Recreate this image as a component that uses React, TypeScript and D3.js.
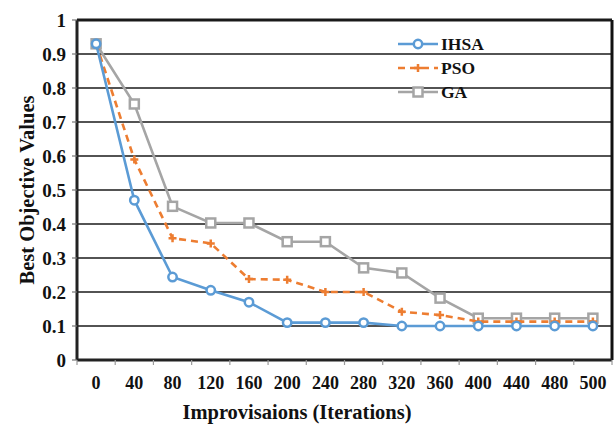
import React, { useEffect, useRef } from "react";
import * as d3 from "d3";

const categories = ["0","40","80","120","160","200","240","280","320","360","400","440","480","500"];
const ihsa = [0.93,0.47,0.244,0.205,0.17,0.11,0.11,0.11,0.1,0.1,0.1,0.1,0.1,0.1];
const pso = [0.93,0.59,0.358,0.343,0.238,0.236,0.2,0.2,0.142,0.132,0.113,0.113,0.113,0.113];
const ga = [0.93,0.753,0.452,0.403,0.403,0.348,0.348,0.271,0.256,0.182,0.123,0.123,0.123,0.123];
const yTicks = [0,0.1,0.2,0.3,0.4,0.5,0.6,0.7,0.8,0.9,1];

const seriesNames = ["IHSA","PSO","GA"];
const seriesColors = ["#5B9BD5","#ED7D31","#A5A5A5"];

export default function App() {
  const ref = useRef<SVGSVGElement>(null);
  useEffect(() => {
    const svg = d3.select(ref.current);
    svg.selectAll("*").remove();
    const W = 616, H = 427;
    const m = { left: 77, right: 4, top: 20, bottom: 67 };
    const x = d3.scaleBand().domain(categories).range([m.left, W - m.right]);
    const y = d3.scaleLinear().domain([0, 1]).range([H - m.bottom, m.top]);
    const font = "'Liberation Serif', 'Times New Roman', serif";

    svg.append("rect").attr("width", W).attr("height", H).attr("fill", "#fff");

    svg.append("g").selectAll("line").data(yTicks.filter(t => t > 0)).join("line")
      .attr("x1", m.left).attr("x2", W - m.right)
      .attr("y1", d => y(d)).attr("y2", d => y(d))
      .attr("stroke", "#1a1a1a").attr("stroke-width", d => d === 1 ? 3 : 1.5);

    svg.append("line").attr("x1", W - m.right).attr("x2", W - m.right)
      .attr("y1", y(1)).attr("y2", y(0)).attr("stroke", "#111").attr("stroke-width", 3);
    svg.append("line").attr("x1", m.left).attr("x2", m.left)
      .attr("y1", y(1)).attr("y2", y(0)).attr("stroke", "#222").attr("stroke-width", 3);
    svg.append("line").attr("x1", m.left).attr("x2", W - m.right)
      .attr("y1", y(0)).attr("y2", y(0)).attr("stroke", "#222").attr("stroke-width", 3);

    const txt = (sel: any, size: number) =>
      sel.style("font-family", font).style("font-weight", "bold").style("font-size", size + "px").attr("fill", "#111");

    const yg = svg.append("g");
    yg.selectAll("line").data(yTicks).join("line")
      .attr("x1", m.left - 5).attr("x2", m.left)
      .attr("y1", d => y(d)).attr("y2", d => y(d))
      .attr("stroke", "#777").attr("stroke-width", 1.2);
    txt(yg.selectAll("text").data(yTicks).join("text")
      .attr("x", m.left - 11).attr("y", d => y(d)).attr("dy", "0.35em")
      .attr("text-anchor", "end"), 19)
      .text(d => d3.format("")(d));

    const bounds = categories.map(c => x(c)!).concat([W - m.right]);
    svg.append("g").selectAll("line").data(bounds).join("line")
      .attr("x1", d => d).attr("x2", d => d)
      .attr("y1", y(0)).attr("y2", y(0) + 5)
      .attr("stroke", "#999").attr("stroke-width", 1.2);
    txt(svg.append("g").selectAll("text").data(categories).join("text")
      .attr("x", d => x(d)! + x.bandwidth() / 2).attr("y", y(0) + 29)
      .attr("text-anchor", "middle"), 18)
      .text(d => d);

    txt(svg.append("text").attr("x", 297).attr("y", 419)
      .attr("text-anchor", "middle"), 20.5).text("Improvisaions (Iterations)");
    txt(svg.append("text").attr("transform", `translate(34,190) rotate(-90)`)
      .attr("text-anchor", "middle"), 20.5).text("Best Objective Values");

    const data = [ihsa, pso, ga];
    const cx = (i: number) => x(categories[i])! + x.bandwidth() / 2;
    const line = d3.line<number>().x((_, i) => cx(i)).y(d => y(d));

    const drawMarker = (g: any, k: number, px: number, py: number) => {
      const c = seriesColors[k];
      if (k === 0) {
        g.append("circle").attr("cx", px).attr("cy", py).attr("r", 4.2)
          .attr("fill", "#fff").attr("stroke", c).attr("stroke-width", 2.5);
      } else if (k === 1) {
        g.append("path").attr("d", `M${px - 4},${py}H${px + 4}M${px},${py - 4}V${py + 4}`)
          .attr("stroke", c).attr("stroke-width", 2.5).attr("fill", "none");
      } else {
        g.append("rect").attr("x", px - 4.5).attr("y", py - 4.5).attr("width", 9).attr("height", 9)
          .attr("fill", "#fff").attr("stroke", c).attr("stroke-width", 2.5);
      }
    };

    [2, 1, 0].forEach(k => {
      const g = svg.append("g");
      g.append("path").datum(data[k]).attr("d", line).attr("fill", "none")
        .attr("stroke", seriesColors[k]).attr("stroke-width", 2.6)
        .attr("stroke-dasharray", k === 1 ? "7,5" : null);
      data[k].forEach((v, i) => drawMarker(g, k, cx(i), y(v)));
    });

    const lg = svg.append("g");
    seriesNames.forEach((n, k) => {
      const ly = 44 + k * 24;
      lg.append("line").attr("x1", 398).attr("x2", 438).attr("y1", ly).attr("y2", ly)
        .attr("stroke", seriesColors[k]).attr("stroke-width", 2.6)
        .attr("stroke-dasharray", k === 1 ? "7,5" : null);
      drawMarker(lg, k, 418, ly);
      txt(lg.append("text").attr("x", 441).attr("y", ly).attr("dy", "0.35em"), 17.5).text(n);
    });
  }, []);
  return <svg ref={ref} width={616} height={427} style={{ position: "absolute", left: 0, top: 0 }} />;
}
